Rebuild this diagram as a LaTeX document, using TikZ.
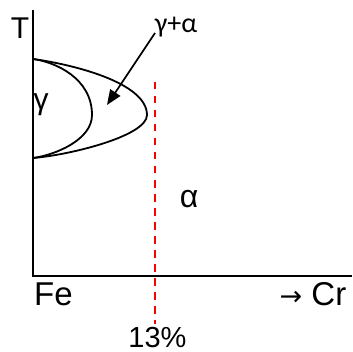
\documentclass[tikz,border=0pt]{standalone}
\usepackage{fontspec}
\setmainfont{Liberation Sans}
\newfontfamily\calfont{Carlito}
\newfontfamily\dvfont{DejaVu Sans}
\usetikzlibrary{arrows.meta}
\tikzset{
  ax/.style={line width=2pt,black},
  curve/.style={line width=1.8pt,black},
  lbl/.style={inner sep=0pt,anchor=base,font=\fontsize{32}{33}\selectfont},
  redline/.style={line width=2pt,red,dash pattern=on 7.5pt off 6.5pt},
}
\begin{document}
\begin{tikzpicture}[x=1pt,y=-1pt]
\useasboundingbox (0,0) rectangle (352,352);
\coordinate (O) at (33,276);
\coordinate (Ytop) at (33,10);
\coordinate (Xend) at (352,276);
\draw[ax] (Ytop) -- (O) -- (Xend);
\coordinate (P1) at (33,59);
\coordinate (P2) at (33,158);
\draw[curve] (P1) .. controls (70,64) and (147,82) .. (147,115)
  .. controls (147,136) and (70,155) .. (P2);
\draw[curve] (P1) .. controls (55,62) and (92,78) .. (92,115)
  .. controls (92,140) and (55,155) .. (P2);
\coordinate (Rtop) at (155,82);
\coordinate (Rbot) at (155,324);
\draw[redline] (Rtop) -- (Rbot);
\node[lbl,font=\fontsize{30}{31}\selectfont] (T) at (20,39) {T};
\node[lbl,font=\fontsize{30}{31}\selectfont] (g) at (41,110) {γ};
\node[lbl] (a) at (189,207) {α};
\node[lbl,font=\calfont\fontsize{28}{29}\selectfont] (ga) at (176,33) {γ+α};
\node[lbl,font=\fontsize{33}{34}\selectfont] (Fe) at (53.5,305) {Fe};
\node[lbl,font=\fontsize{33}{34}\selectfont] (Cr) at (313,305) {{\dvfont\fontsize{27}{27}\selectfont →} Cr};
\node[lbl,font=\fontsize{29}{30}\selectfont] (pct) at (157.5,347) {13\%};
\coordinate (At) at (107,105);
\draw[line width=1.8pt,-{Triangle[length=15pt,width=12pt]}] (155,33) -- (At);
\end{tikzpicture}
\end{document}
